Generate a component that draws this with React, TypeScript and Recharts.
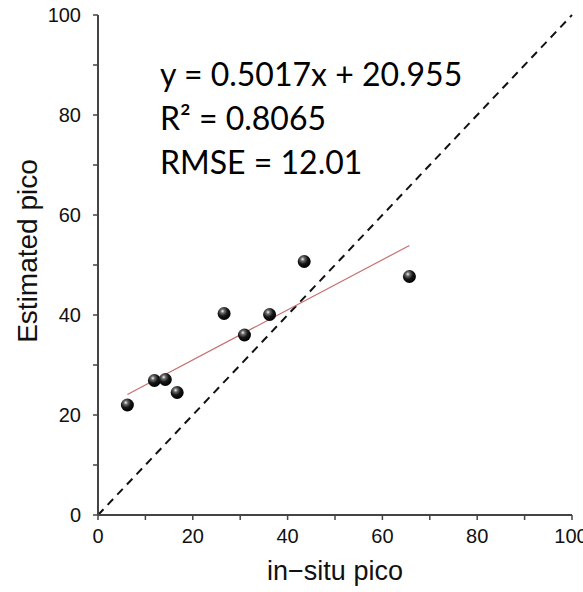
import React from "react";
import {
    ScatterChart,
    Scatter,
    XAxis,
    YAxis,
    ReferenceLine,
    Label,
} from "recharts";

// measured points
const insituPico = [6.2, 11.9, 14.2, 16.7, 26.6, 30.9, 36.2, 43.5, 65.7];
const estimatedPico = [22.0, 26.9, 27.1, 24.5, 40.3, 36.0, 40.1, 50.7, 47.7];

// fitted line end points
const fitX = [6.2, 65.7];
const fitY = [24.1, 53.9];

const axisTicks = [0, 10, 20, 30, 40, 50, 60, 70, 80, 90, 100];

const statLines = ["y = 0.5017x + 20.955", "R² = 0.8065", "RMSE = 12.01"];

const points = insituPico.map((x, i) => ({ x, y: estimatedPico[i] }));
const fitLine = fitX.map((x, i) => ({ x, y: fitY[i] }));

const AXIS_COLOR = "#444";
const font = "Liberation Sans, Arial, sans-serif";

const XTick = (props: any) => {
    const { x, y, payload } = props;
    if (payload.value % 20 !== 0) return <g />;
    return (
        <text x={x} y={y + 19} textAnchor="middle" fontFamily={font} fontSize={20} fill="#111">
            {payload.value}
        </text>
    );
};

const YTick = (props: any) => {
    const { x, y, payload } = props;
    if (payload.value % 20 !== 0) return <g />;
    return (
        <text x={x} y={y + 7} textAnchor="end" fontFamily={font} fontSize={20} fill="#111">
            {payload.value}
        </text>
    );
};

const blank = () => "";

const Ball = (props: any) => {
    const { cx, cy } = props;
    return (
        <g>
            <defs>
                <radialGradient id="ballFill" cx="38%" cy="32%" r="70%">
                    <stop offset="0%" stopColor="#f4f4f4" />
                    <stop offset="22%" stopColor="#6a6a6a" />
                    <stop offset="55%" stopColor="#151515" />
                    <stop offset="100%" stopColor="#000" />
                </radialGradient>
            </defs>
            <circle cx={cx} cy={cy} r={6.5} fill="url(#ballFill)" />
        </g>
    );
};

const NoDot = () => <g />;

const App = () => {
    return (
        <div style={{ position: "absolute", left: 0, top: 0, width: 583, height: 592, background: "#fff" }}>
            <ScatterChart
                width={583}
                height={592}
                margin={{ top: 15, right: 11, bottom: 0, left: 0 }}
            >
                <XAxis
                    type="number"
                    dataKey="x"
                    domain={[0, 100]}
                    ticks={axisTicks}
                    height={77}
                    tickSize={5}
                    tickMargin={4}
                    tick={<XTick />}
                    axisLine={{ stroke: AXIS_COLOR, strokeWidth: 2 }}
                    tickLine={{ stroke: AXIS_COLOR, strokeWidth: 1.5 }}
                >
                    <Label
                        content={() => (
                            <text
                                x={335}
                                y={580}
                                textAnchor="middle"
                                fontFamily={font}
                                fontSize={27}
                                fill="#111"
                            >
                                in−situ pico
                            </text>
                        )}
                    />
                </XAxis>
                <XAxis
                    xAxisId="top"
                    orientation="top"
                    type="number"
                    dataKey="x"
                    domain={[0, 100]}
                    ticks={axisTicks}
                    tickFormatter={blank}
                    height={0}
                    mirror
                    tickSize={5}
                    axisLine={{ stroke: AXIS_COLOR, strokeWidth: 2 }}
                    tickLine={{ stroke: AXIS_COLOR, strokeWidth: 1.5 }}
                />
                <YAxis
                    type="number"
                    dataKey="y"
                    domain={[0, 100]}
                    ticks={axisTicks}
                    width={98}
                    tickSize={5}
                    tickMargin={12}
                    tick={<YTick />}
                    axisLine={{ stroke: AXIS_COLOR, strokeWidth: 2 }}
                    tickLine={{ stroke: AXIS_COLOR, strokeWidth: 1.5 }}
                >
                    <Label
                        content={() => (
                            <text
                                x={37}
                                y={251}
                                transform="rotate(-90 37 251)"
                                textAnchor="middle"
                                fontFamily={font}
                                fontSize={28}
                                fill="#111"
                            >
                                Estimated pico
                            </text>
                        )}
                    />
                </YAxis>
                <YAxis
                    yAxisId="right"
                    orientation="right"
                    type="number"
                    dataKey="y"
                    domain={[0, 100]}
                    ticks={axisTicks}
                    tickFormatter={blank}
                    width={0}
                    mirror
                    tickSize={5}
                    axisLine={{ stroke: AXIS_COLOR, strokeWidth: 2 }}
                    tickLine={{ stroke: AXIS_COLOR, strokeWidth: 1.5 }}
                />
                <ReferenceLine
                    segment={[
                        { x: 0, y: 0 },
                        { x: 100, y: 100 },
                    ]}
                    stroke="#111"
                    strokeWidth={2}
                    strokeDasharray="8 6"
                    ifOverflow="visible"
                />
                <Scatter
                    data={fitLine}
                    line={{ stroke: "#c77070", strokeWidth: 1.2 }}
                    shape={NoDot}
                    isAnimationActive={false}
                />
                <Scatter data={points} shape={Ball} isAnimationActive={false} />
            </ScatterChart>
            {statLines.map((t, i) => (
                <div
                    key={t}
                    style={{
                        position: "absolute",
                        left: 160,
                        top: 54 + i * 44,
                        fontFamily: "Lato, sans-serif",
                        fontSize: 32,
                        lineHeight: "40px",
                        color: "#000",
                        whiteSpace: "nowrap",
                    }}
                >
                    {t}
                </div>
            ))}
        </div>
    );
};

export default App;
